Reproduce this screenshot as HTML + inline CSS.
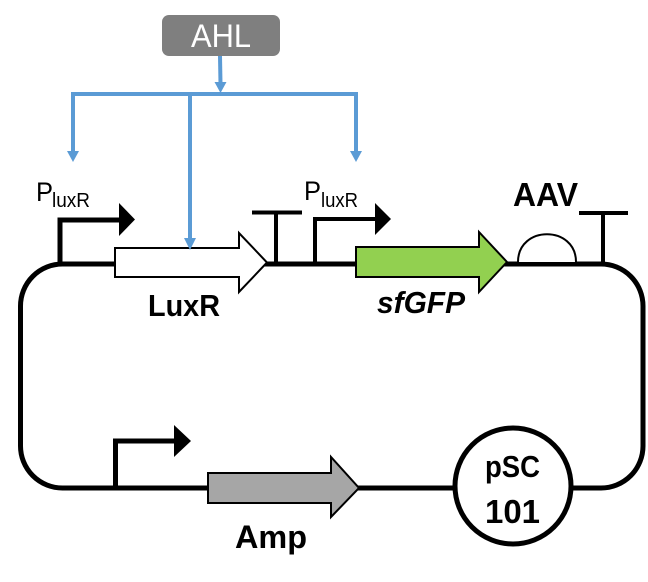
<!DOCTYPE html>
<html>
<head>
<meta charset="utf-8">
<style>
html,body{margin:0;padding:0;background:#fff;width:648px;height:582px;overflow:hidden}
svg{display:block}
text{font-family:"Liberation Sans",sans-serif}
.b{font-weight:bold;fill:#000}
</style>
</head>
<body>
<svg width="648" height="582" viewBox="0 0 648 582" xmlns="http://www.w3.org/2000/svg">
<rect width="648" height="582" fill="#fff"/>
<!-- AHL -->
<rect x="162" y="15" width="118" height="41" rx="7" fill="#7f7f7f"/>
<text x="191" y="47" font-size="32" fill="#fff" textLength="60" lengthAdjust="spacingAndGlyphs">AHL</text>
<!-- blue connectors -->
<g stroke="#5b9bd5" stroke-width="4" fill="none">
<path d="M220 56L220.500 84"/>
<path d="M71 94H357"/>
<path d="M73 92V153"/>
<path d="M356 92V153"/>
</g>
<g fill="#5b9bd5">
<path d="M214.500 82H226.500L220.500 93Z"/>
<path d="M67 151H79L73 162Z"/>
<path d="M350 151H362L356 162Z"/>
</g>
<!-- loop -->
<rect x="20.500" y="264" width="622.500" height="224" rx="42" fill="none" stroke="#000" stroke-width="5"/>
<!-- promoters -->
<path d="M60 264V220H122" fill="none" stroke="#000" stroke-width="5"/>
<path d="M119 203L135 219.500L119 236Z" fill="#000"/>
<path d="M315 264V219H378" fill="none" stroke="#000" stroke-width="4"/>
<path d="M375 203L391 219L375 235Z" fill="#000"/>
<path d="M115.500 488V441H176" fill="none" stroke="#000" stroke-width="5"/>
<path d="M174 425L191 441L174 457Z" fill="#000"/>
<!-- terminators -->
<path d="M252 212.500H302M276 212V264" fill="none" stroke="#000" stroke-width="4"/>
<path d="M579 213H628M603 213V264" fill="none" stroke="#000" stroke-width="4"/>
<!-- AAV arc -->
<path d="M518 262C518 225 576 225 576 262" fill="#fff" stroke="#000" stroke-width="2"/>
<!-- gene arrows -->
<path d="M115 248H239V233L267 262.500L239 292V277H115Z" fill="#fff" stroke="#000" stroke-width="2"/>
<path d="M356 247H479V232L507 262L479 292V277H356Z" fill="#92d050" stroke="#000" stroke-width="2"/>
<path d="M208 473H331V457L359 488L331 517V503H208Z" fill="#a6a6a6" stroke="#000" stroke-width="2"/>
<!-- middle blue arrow, drawn over the LuxR gene -->
<path d="M190 94V240" fill="none" stroke="#5b9bd5" stroke-width="4"/>
<path d="M184 238H196L190 250Z" fill="#5b9bd5"/>
<!-- origin -->
<circle cx="513" cy="486" r="58" fill="#fff" stroke="#000" stroke-width="5"/>
<!-- labels -->
<text x="36" y="201" font-size="27" textLength="17" lengthAdjust="spacingAndGlyphs">P</text>
<text x="52" y="207" font-size="20" textLength="38" lengthAdjust="spacingAndGlyphs">luxR</text>
<text x="304" y="200" font-size="27" textLength="17" lengthAdjust="spacingAndGlyphs">P</text>
<text x="321" y="207" font-size="20" textLength="37" lengthAdjust="spacingAndGlyphs">luxR</text>
<text x="513" y="206" font-size="33" class="b" textLength="65" lengthAdjust="spacingAndGlyphs">AAV</text>
<text x="148" y="316" font-size="31" class="b" textLength="72" lengthAdjust="spacingAndGlyphs">LuxR</text>
<text x="377" y="313" font-size="31" class="b" font-style="italic" textLength="88" lengthAdjust="spacingAndGlyphs">sfGFP</text>
<text x="235" y="548" font-size="32" class="b" textLength="72" lengthAdjust="spacingAndGlyphs">Amp</text>
<text x="485" y="477" font-size="31" class="b" textLength="55" lengthAdjust="spacingAndGlyphs">pSC</text>
<text x="485" y="523" font-size="33" class="b" textLength="55" lengthAdjust="spacingAndGlyphs">101</text>
</svg>
</body>
</html>
